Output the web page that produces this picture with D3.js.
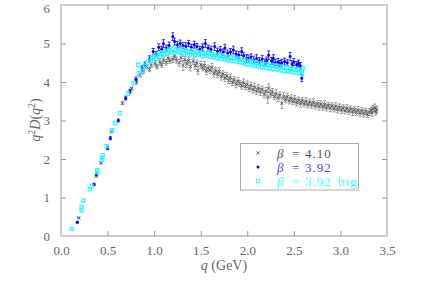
<!DOCTYPE html>
<html><head><meta charset="utf-8">
<script src="https://cdn.jsdelivr.net/npm/d3@7"></script>
<style>body{margin:0;background:#fff}svg{display:block}</style>
</head><body><svg id="c" width="432" height="304"></svg>
<script>
// [q (GeV), q^2 D(q^2), error]
const beta410 = [
[0.19,0.47,0.02],[0.38,1.56,0.03],[0.43,1.90,0.03],[0.54,2.71,0.03],[0.66,3.45,0.04],[0.76,3.83,0.04],[0.81,3.99,0.05],[0.85,4.18,0.05],[0.88,4.27,0.06],[0.92,4.40,0.06],[0.95,4.33,0.06],[0.97,4.44,0.07],[1.01,4.48,0.07],[1.03,4.40,0.06],[1.06,4.52,0.08],[1.08,4.45,0.07],[1.10,4.57,0.08],[1.13,4.51,0.07],[1.15,4.62,0.09],[1.17,4.55,0.07],[1.20,4.59,0.08],[1.22,4.67,0.09],[1.24,4.57,0.08],[1.27,4.50,0.09],[1.29,4.63,0.10],[1.31,4.43,0.13],[1.33,4.58,0.08],[1.35,4.47,0.09],[1.37,4.56,0.09],[1.39,4.40,0.11],[1.42,4.54,0.08],[1.44,4.42,0.09],[1.46,4.49,0.08],[1.47,4.30,0.10],[1.50,4.45,0.09],[1.52,4.37,0.08],[1.54,4.43,0.10],[1.56,4.28,0.09],[1.58,4.36,0.08],[1.60,4.31,0.09],[1.62,4.38,0.10],[1.64,4.22,0.09],[1.66,4.29,0.08],[1.68,4.20,0.09],[1.70,4.27,0.10],[1.72,4.14,0.09],[1.74,4.21,0.08],[1.76,4.10,0.09],[1.78,4.16,0.09],[1.80,4.04,0.08],[1.82,4.11,0.10],[1.84,3.99,0.09],[1.86,4.06,0.08],[1.88,3.94,0.09],[1.90,4.02,0.09],[1.92,3.96,0.08],[1.94,3.90,0.09],[1.96,3.98,0.10],[1.98,3.88,0.08],[2.00,3.94,0.09],[2.02,3.83,0.08],[2.04,3.91,0.09],[2.06,3.80,0.09],[2.08,3.87,0.10],[2.10,3.76,0.08],[2.12,3.84,0.09],[2.14,3.74,0.09],[2.16,3.81,0.08],[2.18,3.68,0.09],[2.20,3.76,0.10],[2.22,3.60,0.15],[2.23,3.84,0.11],[2.25,3.69,0.09],[2.27,3.74,0.09],[2.29,3.62,0.08],[2.31,3.70,0.10],[2.33,3.58,0.09],[2.35,3.66,0.08],[2.37,3.45,0.14],[2.39,3.63,0.09],[2.41,3.54,0.08],[2.43,3.62,0.09],[2.45,3.51,0.08],[2.47,3.58,0.09],[2.49,3.49,0.08],[2.51,3.56,0.09],[2.53,3.46,0.08],[2.55,3.53,0.08],[2.57,3.44,0.09],[2.59,3.52,0.08],[2.61,3.43,0.08],[2.63,3.50,0.09],[2.65,3.41,0.08],[2.67,3.48,0.08],[2.69,3.40,0.08],[2.71,3.47,0.09],[2.73,3.38,0.08],[2.75,3.44,0.08],[2.77,3.36,0.09],[2.79,3.43,0.08],[2.81,3.35,0.08],[2.83,3.42,0.09],[2.85,3.33,0.08],[2.87,3.40,0.08],[2.89,3.32,0.09],[2.91,3.38,0.08],[2.93,3.30,0.08],[2.95,3.37,0.09],[2.97,3.28,0.08],[2.99,3.35,0.08],[3.01,3.27,0.09],[3.03,3.33,0.08],[3.05,3.25,0.08],[3.07,3.32,0.09],[3.09,3.24,0.08],[3.11,3.30,0.08],[3.13,3.22,0.09],[3.15,3.28,0.08],[3.17,3.21,0.08],[3.19,3.27,0.09],[3.21,3.19,0.08],[3.23,3.26,0.08],[3.25,3.18,0.09],[3.27,3.24,0.08],[3.29,3.16,0.08],[3.31,3.22,0.09],[3.33,3.27,0.08],[3.34,3.20,0.09],[3.35,3.31,0.09],[3.37,3.33,0.10],[3.38,3.23,0.09],[3.39,3.28,0.09]
];
const beta392 = [
[0.175,0.36,0.02],[0.355,1.34,0.03],[0.38,1.60,0.03],[0.50,2.28,0.04],[0.53,2.54,0.04],[0.615,3.00,0.04],[0.695,3.58,0.05],[0.74,3.76,0.05],[0.805,4.07,0.06],[0.87,4.35,0.07],[0.90,4.45,0.07],[0.95,4.60,0.08],[0.99,4.79,0.08],[1.02,4.72,0.07],[1.05,4.90,0.09],[1.08,4.85,0.08],[1.10,5.00,0.10],[1.13,4.88,0.08],[1.16,4.95,0.09],[1.20,5.18,0.10],[1.22,5.05,0.09],[1.25,4.97,0.08],[1.28,5.00,0.09],[1.31,4.95,0.08],[1.34,4.93,0.09],[1.37,5.00,0.08],[1.40,4.90,0.08],[1.43,4.97,0.09],[1.46,4.92,0.08],[1.49,4.85,0.08],[1.52,4.90,0.09],[1.55,5.00,0.10],[1.58,4.88,0.08],[1.61,4.85,0.08],[1.65,4.92,0.10],[1.68,4.80,0.08],[1.71,4.83,0.09],[1.74,4.78,0.08],[1.76,4.88,0.10],[1.79,4.75,0.08],[1.82,4.78,0.09],[1.85,4.83,0.10],[1.88,4.73,0.08],[1.91,4.70,0.09],[1.94,4.79,0.10],[1.96,4.68,0.08],[1.99,4.62,0.09],[2.01,4.61,0.09],[2.04,4.65,0.08],[2.07,4.58,0.09],[2.10,4.61,0.10],[2.13,4.55,0.08],[2.16,4.60,0.09],[2.19,4.52,0.08],[2.21,4.56,0.09],[2.23,4.70,0.11],[2.26,4.55,0.09],[2.28,4.61,0.10],[2.30,4.50,0.08],[2.33,4.52,0.09],[2.35,4.48,0.08],[2.37,4.50,0.09],[2.40,4.53,0.09],[2.43,4.50,0.08],[2.46,4.66,0.11],[2.48,4.47,0.08],[2.50,4.52,0.09],[2.53,4.45,0.08],[2.55,4.48,0.09],[2.57,4.42,0.09],[2.585,4.10,0.09]
];
const beta392big = [
[0.115,0.18,0.02],[0.22,0.66,0.02],[0.22,0.76,0.02],[0.24,0.92,0.02],[0.31,1.21,0.03],[0.33,1.30,0.03],[0.39,1.71,0.03],[0.39,1.64,0.03],[0.44,1.97,0.03],[0.44,2.03,0.03],[0.45,2.10,0.03],[0.49,2.33,0.03],[0.55,2.75,0.04],[0.58,2.93,0.04],[0.634,3.19,0.04],[0.72,3.70,0.05],[0.78,3.97,0.05],[0.835,4.22,0.05],[0.83,4.44,0.07],[0.88,4.30,0.05],[0.90,4.42,0.05],[0.93,4.50,0.06],[0.96,4.55,0.05],[0.98,4.62,0.06],[1.00,4.66,0.06],[1.02,4.60,0.05],[1.04,4.70,0.06],[1.06,4.65,0.05],[1.08,4.75,0.06],[1.10,4.72,0.06],[1.12,4.80,0.06],[1.14,4.74,0.05],[1.16,4.82,0.06],[1.18,4.78,0.06],[1.20,4.86,0.06],[1.22,4.76,0.05],[1.24,4.83,0.06],[1.26,4.80,0.06],[1.28,4.77,0.05],[1.30,4.85,0.06],[1.32,4.74,0.06],[1.34,4.81,0.05],[1.36,4.78,0.06],[1.38,4.71,0.06],[1.40,4.80,0.06],[1.42,4.75,0.05],[1.44,4.70,0.06],[1.46,4.78,0.06],[1.48,4.72,0.05],[1.50,4.76,0.06],[1.52,4.67,0.06],[1.54,4.74,0.05],[1.56,4.70,0.06],[1.58,4.76,0.06],[1.60,4.66,0.05],[1.62,4.72,0.06],[1.64,4.65,0.06],[1.66,4.70,0.05],[1.68,4.63,0.06],[1.70,4.69,0.06],[1.72,4.61,0.05],[1.74,4.68,0.06],[1.76,4.59,0.06],[1.78,4.65,0.05],[1.80,4.57,0.06],[1.82,4.63,0.06],[1.84,4.55,0.05],[1.86,4.62,0.06],[1.88,4.54,0.06],[1.90,4.60,0.05],[1.92,4.52,0.06],[1.94,4.58,0.06],[1.96,4.49,0.05],[1.98,4.56,0.06],[2.00,4.47,0.06],[2.02,4.54,0.05],[2.04,4.45,0.06],[2.06,4.52,0.06],[2.08,4.43,0.05],[2.10,4.50,0.06],[2.12,4.41,0.06],[2.14,4.48,0.05],[2.16,4.39,0.06],[2.18,4.46,0.06],[2.20,4.37,0.05],[2.22,4.45,0.06],[2.24,4.36,0.06],[2.26,4.43,0.05],[2.28,4.34,0.06],[2.30,4.42,0.06],[2.32,4.33,0.05],[2.34,4.40,0.06],[2.36,4.31,0.06],[2.38,4.39,0.05],[2.40,4.29,0.06],[2.42,4.37,0.06],[2.44,4.28,0.05],[2.46,4.35,0.06],[2.48,4.27,0.06],[2.50,4.34,0.05],[2.52,4.25,0.06],[2.54,4.32,0.06],[2.56,4.24,0.05],[2.58,4.30,0.06],[2.59,4.21,0.06],[2.60,4.35,0.06]
];
const xTicks = [0.0,0.5,1.0,1.5,2.0,2.5,3.0,3.5];
const yTicks = [0,1,2,3,4,5,6];
const legendLabels = ["4.10","3.92","3.92  big"];

const svg = d3.select("#c");
const x = d3.scaleLinear().domain([0,3.5]).range([61,387]);
const y = d3.scaleLinear().domain([0,6]).range([236,5]);
const axisCol = "#999", txtCol = "#666", font = "'Liberation Serif', 'DejaVu Serif', serif";

// frame
svg.append("rect").attr("x",x(0)).attr("y",y(6)).attr("width",x(3.5)-x(0)).attr("height",y(0)-y(6))
  .attr("fill","none").attr("stroke",axisCol).attr("stroke-width",1);

function styleAxis(g){
  g.select(".domain").remove();
  g.selectAll("line").attr("stroke",axisCol);
  g.selectAll("text").attr("fill",txtCol).style("font-family",font).style("font-size","13px");
}
svg.append("g").attr("transform",`translate(0,${y(0)})`)
  .call(d3.axisBottom(x).tickValues(xTicks).tickFormat(d3.format(".1f")).tickSizeInner(-5).tickSizeOuter(0).tickPadding(10))
  .call(styleAxis);
svg.append("g").attr("transform",`translate(0,${y(6)})`)
  .call(d3.axisTop(x).tickValues(xTicks).tickFormat("").tickSizeInner(-5).tickSizeOuter(0))
  .call(styleAxis);
const yAx = svg.append("g").attr("transform",`translate(${x(0)},0)`)
  .call(d3.axisLeft(y).tickValues(yTicks).tickFormat(d3.format("d")).tickSizeInner(-5).tickSizeOuter(0).tickPadding(11))
  .call(styleAxis);
yAx.selectAll(".tick").filter(d=>d===6).select("text").attr("dy","0.55em");
svg.append("g").attr("transform",`translate(${x(3.5)},0)`)
  .call(d3.axisRight(y).tickValues(yTicks).tickFormat("").tickSizeInner(-5).tickSizeOuter(0))
  .call(styleAxis);
svg.selectAll(".tick").filter(d=>d===0||d===3.5||d===6).selectAll("line").remove();

// axis titles
const xt = svg.append("text").attr("x",224).attr("y",270).attr("text-anchor","middle")
  .attr("fill",txtCol).style("font-family",font).style("font-size","14px");
xt.append("tspan").attr("font-style","italic").text("q");
xt.append("tspan").text(" (GeV)");
const yt = svg.append("text").attr("transform","translate(40,120) rotate(-90)").attr("text-anchor","middle")
  .attr("fill",txtCol).style("font-family",font).style("font-size","14px");
yt.append("tspan").attr("font-style","italic").text("q");
yt.append("tspan").attr("dy",-5).style("font-size","10px").text("2");
yt.append("tspan").attr("dy",5).attr("font-style","italic").text("D");
yt.append("tspan").text("(");
yt.append("tspan").attr("font-style","italic").text("q");
yt.append("tspan").attr("dy",-5).style("font-size","10px").text("2");
yt.append("tspan").attr("dy",5).text(")");

function errBars(data, col){
  const g = svg.append("g").attr("stroke",col).attr("stroke-width",0.8).attr("fill","none");
  g.selectAll("path").data(data).join("path").attr("d",d=>{
    const px=x(d[0]), y1=y(d[1]-d[2]), y2=y(d[1]+d[2]);
    return `M${px},${y1}V${y2}M${px-1.5},${y1}h3M${px-1.5},${y2}h3`;
  });
}
function crosses(g, data, col){
  g.selectAll("path.m").data(data).join("path").attr("class","m").attr("stroke",col).attr("stroke-width",0.8).attr("fill","none")
    .attr("d",d=>{const px=x(d[0]),py=y(d[1]);return `M${px-1.6},${py-1.6}l3.2,3.2M${px-1.6},${py+1.6}l3.2,-3.2`;});
}
function dots(g, data, col){
  g.selectAll("circle").data(data).join("circle").attr("cx",d=>x(d[0])).attr("cy",d=>y(d[1])).attr("r",1.5).attr("fill",col);
}
function squares(g, data, col){
  g.selectAll("rect").data(data).join("rect").attr("x",d=>x(d[0])-1.7).attr("y",d=>y(d[1])-1.7)
    .attr("width",3.4).attr("height",3.4).attr("fill","none").attr("stroke",col).attr("stroke-width",0.8);
}

errBars(beta410,"#888"); crosses(svg.append("g"), beta410, "#444");
errBars(beta392,"#0000ff"); dots(svg.append("g"), beta392, "#0000ff");
errBars(beta392big,"#33ffff"); squares(svg.append("g"), beta392big, "#22eeff");

// legend
svg.append("rect").attr("x",240.5).attr("y",143.5).attr("width",118).attr("height",46.5)
  .attr("fill","#fff").attr("stroke","#aaa").attr("stroke-width",1);
const rows = [153,167,181];
const lcols = ["#555","#4444ff","#33ffff"];
const lg = svg.append("g");
crosses(lg, [[x.invert(258), y.invert(rows[0])]], "#555");
dots(lg.append("g"), [[x.invert(258), y.invert(rows[1])]], "#0000ff");
squares(lg.append("g"), [[x.invert(258), y.invert(rows[2])]], "#22eeff");
legendLabels.forEach((lab,i)=>{
  const t = lg.append("text").attr("y",rows[i]+4.5).attr("fill",lcols[i]).style("font-family",font).style("font-size","13px");
  t.append("tspan").attr("x",277).attr("font-style","italic").text("β");
  t.append("tspan").attr("x",292).text("=");
  t.append("tspan").attr("x",305).attr("letter-spacing","1px").text(lab.split("  ")[0]);
  if(lab.includes("big")) t.append("tspan").attr("x",338).attr("letter-spacing","1px").text("big");
});
</script></body></html>
